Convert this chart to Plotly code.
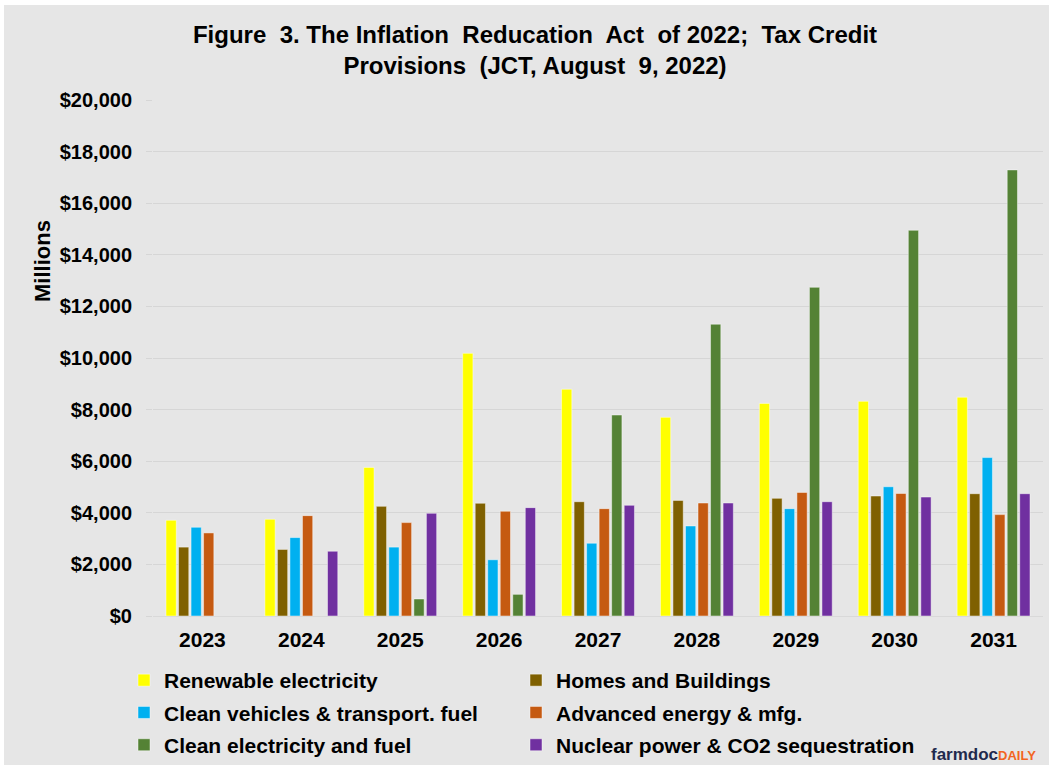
import plotly.graph_objects as go

years = ["2023", "2024", "2025", "2026", "2027", "2028", "2029", "2030", "2031"]

renewable = [3710, 3750, 5760, 10180, 8790, 7700, 8240, 8320, 8480]
homes = [2670, 2580, 4250, 4370, 4430, 4480, 4560, 4650, 4740]
vehicles = [3440, 3040, 2670, 2180, 2820, 3490, 4160, 5010, 6140]
advanced = [3220, 3890, 3620, 4060, 4160, 4380, 4790, 4750, 3930]
clean_elec = [None, None, 660, 840, 7790, 11310, 12740, 14950, 17290]
nuclear = [None, 2510, 3980, 4200, 4290, 4380, 4430, 4610, 4740]

series_names = [
    "Renewable electricity",
    "Homes and Buildings",
    "Clean vehicles & transport. fuel",
    "Advanced energy & mfg.",
    "Clean electricity and fuel",
    "Nuclear power & CO2 sequestration",
]
series_values = [renewable, homes, vehicles, advanced, clean_elec, nuclear]
colors = ["#FFFF00", "#7F6000", "#00B0F0", "#C55A11", "#548235", "#7030A0"]
legend_ids = ["legend", "legend2", "legend", "legend2", "legend", "legend2"]

y_ticks = list(range(0, 20001, 2000))
y_tick_labels = ["${:,}".format(v) for v in y_ticks]

W, H = 1049, 765
ML, MR, MT, MB = 153, 6, 100, 149
PW = W - ML - MR
PH = H - MT - MB

def px_x(p):
    return (p - ML) / PW

def px_y(p):
    return (H - MB - p) / PH

fig = go.Figure()
for i, (name, vals, col, lg) in enumerate(zip(series_names, series_values, colors, legend_ids)):
    fig.add_trace(go.Bar(
        x=years, y=vals, name=name, legend=lg, legendgroup="g%d" % i,
        marker=dict(color=col, line=dict(color="rgba(255,255,255,0.45)", width=1)),
    ))

legend_common = dict(
    orientation="v",
    yanchor="top",
    font=dict(size=21, color="#000000", weight="bold"),
    bgcolor="rgba(0,0,0,0)",
    itemwidth=30,
    tracegroupgap=2,
)

fig.update_layout(
    width=W, height=H,
    margin=dict(l=ML, r=MR, t=MT, b=MB, autoexpand=False),
    paper_bgcolor="#E6E6E6",
    plot_bgcolor="rgba(0,0,0,0)",
    barmode="group",
    bargap=0.24,
    bargroupgap=0.18,
    font=dict(family="Liberation Sans, Arial, sans-serif", color="#000000"),
    title=dict(
        text="<b>Figure  3. The Inflation  Reducation  Act  of 2022;  Tax Credit<br>Provisions  (JCT, August  9, 2022)</b>",
        font=dict(size=24, color="#000000"),
        x=535 / W, xanchor="center", xref="container",
        y=1 - 43 / H, yanchor="middle", yref="container",
    ),
    xaxis=dict(
        tickfont=dict(size=21, color="#000000", weight="bold"),
        showgrid=False,
        showline=True, linecolor="#D9D9D9", linewidth=1,
        ticks="", ticklabelstandoff=5,
    ),
    yaxis=dict(
        range=[0, 20000],
        tickvals=y_ticks, ticktext=y_tick_labels,
        tickfont=dict(size=20, color="#000000", weight="bold"),
        showgrid=True, gridcolor="#D6D6D6", gridwidth=1,
        zeroline=False,
        ticks="outside", ticklen=6, tickcolor="#D6D6D6",
        ticklabelstandoff=10,
    ),
    legend=dict(x=px_x(124), xanchor="left", y=px_y(660), **legend_common),
    legend2=dict(x=px_x(516), xanchor="left", y=px_y(660), **legend_common),
    showlegend=True,
)

fig.add_annotation(
    text="<b>Millions</b>", textangle=-90,
    xref="paper", yref="paper",
    x=px_x(42), y=px_y(261), xanchor="center", yanchor="middle",
    showarrow=False, font=dict(size=22, color="#000000"),
)

fig.add_annotation(
    text="<b><span style='color:#1F2A4D'>farmdoc</span><span style='color:#F26522;font-size:13px'>DAILY</span></b>",
    xref="paper", yref="paper",
    x=px_x(930), y=px_y(H), xanchor="left", yanchor="bottom",
    showarrow=False, font=dict(size=17), borderpad=0,
)

# white frame strips at the top and left edges
fig.add_shape(type="rect", xref="paper", yref="paper", layer="below",
              x0=px_x(0), x1=px_x(W), y0=px_y(5), y1=px_y(0),
              fillcolor="#FFFFFF", line=dict(width=0))
fig.add_shape(type="rect", xref="paper", yref="paper", layer="below",
              x0=px_x(0), x1=px_x(4), y0=px_y(H), y1=px_y(0),
              fillcolor="#FFFFFF", line=dict(width=0))

fig.write_html("out.html")
